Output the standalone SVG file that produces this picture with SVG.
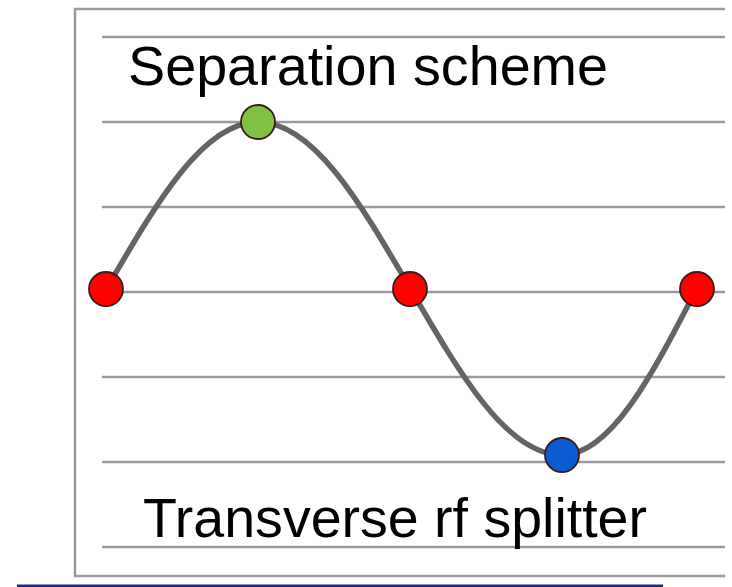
<svg xmlns="http://www.w3.org/2000/svg" width="732" height="587" viewBox="0 0 732 587">
<style>
.grid{stroke:#9a9a9a;stroke-width:2.5;fill:none}
.frame{stroke:#9a9a9a;stroke-width:2.5;fill:none}
.wave{stroke:#646464;stroke-width:5.5;fill:none;stroke-linecap:round}
.dot{stroke:#3a1a1a;stroke-width:1.8}
.lbl{font-family:"Liberation Sans",Arial,sans-serif;font-size:55.5px;fill:#000}
</style>
<rect width="732" height="587" fill="#fff"/>
<g id="frame">
<path class="frame" d="M725,9 H75 V576 H725"/>
</g>
<g id="grid">
<line class="grid" x1="102" y1="37" x2="725" y2="37"/>
<line class="grid" x1="102" y1="122" x2="725" y2="122"/>
<line class="grid" x1="102" y1="207" x2="725" y2="207"/>
<line class="grid" x1="102" y1="292" x2="725" y2="292"/>
<line class="grid" x1="102" y1="377" x2="725" y2="377"/>
<line class="grid" x1="102" y1="462" x2="725" y2="462"/>
<line class="grid" x1="102" y1="547" x2="725" y2="547"/>
</g>
<g id="connectors">
<path class="wave" d="M107,288 C157.5,200.8 203.7,122 258,122 C312.7,122 359.2,200.8 410,288 C460.8,375.7 507.3,455 562,455 C610.6,455 651.9,375.7 697,288"/>
</g>
<g id="node-red-left"><circle class="dot" cx="106" cy="289" r="17" fill="#ff0000"/></g>
<g id="node-green"><circle class="dot" cx="258" cy="122" r="17" fill="#7dc242" stroke="#1e3a10"/></g>
<g id="node-red-mid"><circle class="dot" cx="410" cy="289" r="17" fill="#ff0000"/></g>
<g id="node-blue"><circle class="dot" cx="562" cy="455" r="17" fill="#0a5ad2" stroke="#0a1a40"/></g>
<g id="node-red-right"><circle class="dot" cx="697" cy="289" r="17" fill="#ff0000"/></g>
<g id="labels">
<text class="lbl" x="128" y="85" textLength="480" lengthAdjust="spacingAndGlyphs">Separation scheme</text>
<text class="lbl" x="143" y="537" textLength="504" lengthAdjust="spacingAndGlyphs">Transverse rf splitter</text>
</g>
<line x1="17" y1="586" x2="663" y2="586" stroke="#1f2a85" stroke-width="3"/>
</svg>
